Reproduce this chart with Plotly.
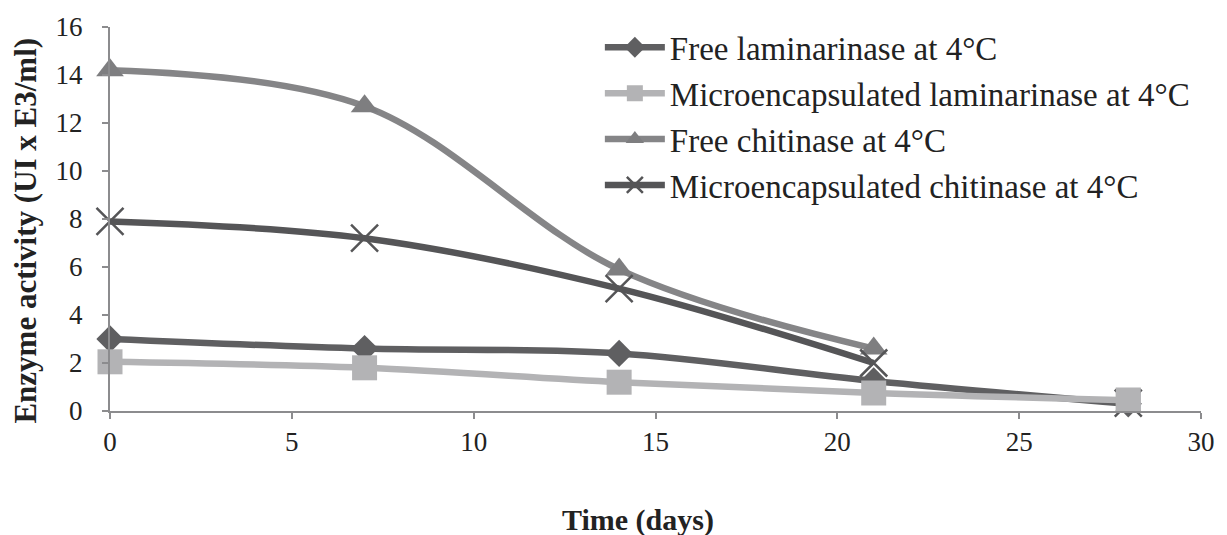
import plotly.graph_objects as go

days = [0, 7, 14, 21, 28]
free_lam = [3.0, 2.6, 2.4, 1.25, 0.3]
micro_lam = [2.05, 1.8, 1.2, 0.75, 0.45]
free_chit = [14.2, 12.7, 5.9, 2.6, 0.2]
micro_chit = [7.9, 7.2, 5.1, 2.0, 0.33]

names = ["Free laminarinase at 4°C", "Microencapsulated laminarinase at 4°C",
         "Free chitinase at 4°C", "Microencapsulated chitinase at 4°C"]
x_title = "Time (days)"
y_title = "Enzyme activity (UI x E3/ml)"

FONT = "Liberation Serif"
C_FL = "#5f5f61"
C_ML = "#b3b3b5"
C_FC = "#858587"
C_MC = "#555557"
LW = 6.5

fig = go.Figure()

fig.add_trace(go.Scatter(x=days, y=free_lam, name=names[0], mode="lines+markers",
                         line=dict(color=C_FL, width=LW, shape="spline", smoothing=1),
                         marker=dict(symbol="diamond", size=21, color=C_FL),
                         legendgroup="a", cliponaxis=False))
fig.add_trace(go.Scatter(x=days, y=micro_lam, name=names[1], mode="lines+markers",
                         line=dict(color=C_ML, width=LW, shape="spline", smoothing=1),
                         marker=dict(symbol="square", size=25, color=C_ML),
                         legendgroup="b", cliponaxis=False))
fig.add_trace(go.Scatter(x=days[:4], y=free_chit[:4], name=names[2], mode="lines+markers",
                         line=dict(color=C_FC, width=LW, shape="spline", smoothing=1),
                         marker=dict(symbol="triangle-up", size=24, color="#7e7e80"),
                         legendgroup="c", cliponaxis=False))
fig.add_trace(go.Scatter(x=days[4:], y=free_chit[4:], mode="markers", showlegend=False,
                         marker=dict(symbol="triangle-up", size=24, color="#7e7e80"),
                         legendgroup="c", cliponaxis=False))
fig.add_trace(go.Scatter(x=days[:4], y=micro_chit[:4], name=names[3], mode="lines+markers",
                         line=dict(color=C_MC, width=LW, shape="spline", smoothing=1),
                         marker=dict(symbol="x-thin", size=27, color=C_MC,
                                     line=dict(width=2.5, color=C_MC)),
                         legendgroup="d", cliponaxis=False))
fig.add_trace(go.Scatter(x=days[4:], y=micro_chit[4:], mode="markers", showlegend=False,
                         marker=dict(symbol="x-thin", size=27, color=C_MC,
                                     line=dict(width=2.5, color=C_MC)),
                         legendgroup="d", cliponaxis=False))
fig.add_trace(go.Scatter(x=days[4:], y=micro_lam[4:], mode="markers", showlegend=False,
                         marker=dict(symbol="square", size=25, color=C_ML),
                         legendgroup="b", cliponaxis=False))

axis_common = dict(showline=True, linecolor="#8c8c8e", linewidth=2, showgrid=False,
                   zeroline=False, ticks="outside", tickcolor="#8c8c8e", tickwidth=2,
                   ticklen=6, tickfont=dict(family=FONT, size=27, color="#222"))

fig.update_xaxes(range=[0, 30], dtick=5, tick0=0, **axis_common)
fig.update_yaxes(range=[0, 16], dtick=2, tick0=0, ticklabelstandoff=14, **axis_common)

fig.add_annotation(text="<b>" + x_title + "</b>", xref="paper", yref="paper",
                   x=0.484, y=-0.284, xanchor="center", yanchor="middle", showarrow=False,
                   font=dict(family=FONT, size=30, color="#222"))
fig.add_annotation(text="<b>" + y_title + "</b>", xref="paper", yref="paper",
                   x=-0.0775, y=0.471, xanchor="center", yanchor="middle", showarrow=False,
                   textangle=-90, font=dict(family=FONT, size=31, color="#222"))

fig.update_layout(
    width=1227, height=535,
    margin=dict(l=110, r=20, t=27, b=124),
    plot_bgcolor="white", paper_bgcolor="white",
    font=dict(family=FONT, size=27, color="#222"),
    legend=dict(x=0.449, y=1.02, xanchor="left", yanchor="top",
                font=dict(family=FONT, size=33, color="#222"),
                tracegroupgap=0, traceorder="grouped",
                bgcolor="rgba(0,0,0,0)", itemwidth=60),
    showlegend=True,
)

fig.write_html("out.html", config={"displayModeBar": False},
               post_script="document.body.style.margin='0';")
